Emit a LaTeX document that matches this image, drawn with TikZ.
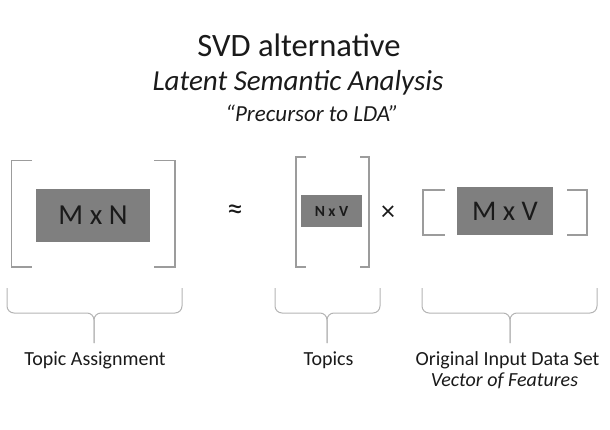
\documentclass[tikz,border=0pt]{standalone}
\usepackage{fontspec}
\setmainfont{Carlito}
\usetikzlibrary{positioning}
\definecolor{boxgray}{HTML}{7F7F7F}
\definecolor{brkgray}{HTML}{9C9C9C}
\definecolor{brcgray}{HTML}{B4B4B4}
\definecolor{ink}{HTML}{1A1A1A}
\newcommand{\fs}[1]{\fontsize{#1}{1.2\dimexpr#1pt\relax}\selectfont}

\begin{document}
\begin{tikzpicture}[x=1pt, y=-1pt, text=ink,
	mat/.style={fill=boxgray, inner sep=0pt, text=ink},
	brk/.style={draw=brkgray, line width=1.4pt},
	brc/.style={draw=brcgray, line width=1pt, rounded corners=7pt},
	lbl/.style={anchor=base, inner sep=0pt}]
		\useasboundingbox (0,0) rectangle (610,430);

		% Titel
			\node[lbl] (title) at (299,56.7) {\fs{32.6}SVD alternative};
			\node[lbl] (subtitle) at (298,91) {\fs{29}\itshape Latent Semantic Analysis};
			\node[lbl] (quote) at (312,121.7) {\fs{23}\itshape “Precursor to LDA”};

		% Matrizen
			\node[mat, minimum width=114, minimum height=53] (mn) at (93,215.5) {\fs{29}M x N};
			\node[mat, minimum width=61, minimum height=32] (nv) at (331.5,211) {\fs{15.5}\bfseries N x V};
			\node[mat, minimum width=96, minimum height=48] (mv) at (505,211) {\fs{28.5}M x V};
			\node (approx) at (235,212) {\fs{32}≈};
			\node (times) at (388,213) {\fs{28}×};

		% Klammern
			\draw[brk] (32,160.7) -- (11.7,160.7) -- (11.7,267) -- (32,267);
			\draw[brk] (154,160.7) -- (175,160.7) -- (175,267) -- (154,267);
			\draw[brk] (306,157) -- (296,157) -- (296,267) -- (306,267);
			\draw[brk] (360,157) -- (369,157) -- (369,267) -- (360,267);
			\draw[brk] (445,190) -- (423,190) -- (423,235) -- (445,235);
			\draw[brk] (567,190) -- (587,190) -- (587,235) -- (567,235);

		% geschweifte Klammern unten
			\foreach \xa/\xm/\xb in {7/94/182, 275/327/380, 422/510/597}{
				\draw[brc] (\xa,288) -- (\xa,313) -- (\xm,313) -- (\xm,343);
				\draw[brc] (\xb,288) -- (\xb,313) -- (\xm,313) -- (\xm,343);
			}

		% Beschriftungen
			\node[lbl] (lblA) at (95,365) {\fs{20}Topic Assignment};
			\node[lbl] (lblT) at (328.5,365) {\fs{20}Topics};
			\node[lbl] (lblO) at (507.5,365) {\fs{20}Original Input Data Set};
			\node[lbl] (lblV) at (504.5,386) {\fs{20}\itshape Vector of Features};
	\end{tikzpicture}
\end{document}
